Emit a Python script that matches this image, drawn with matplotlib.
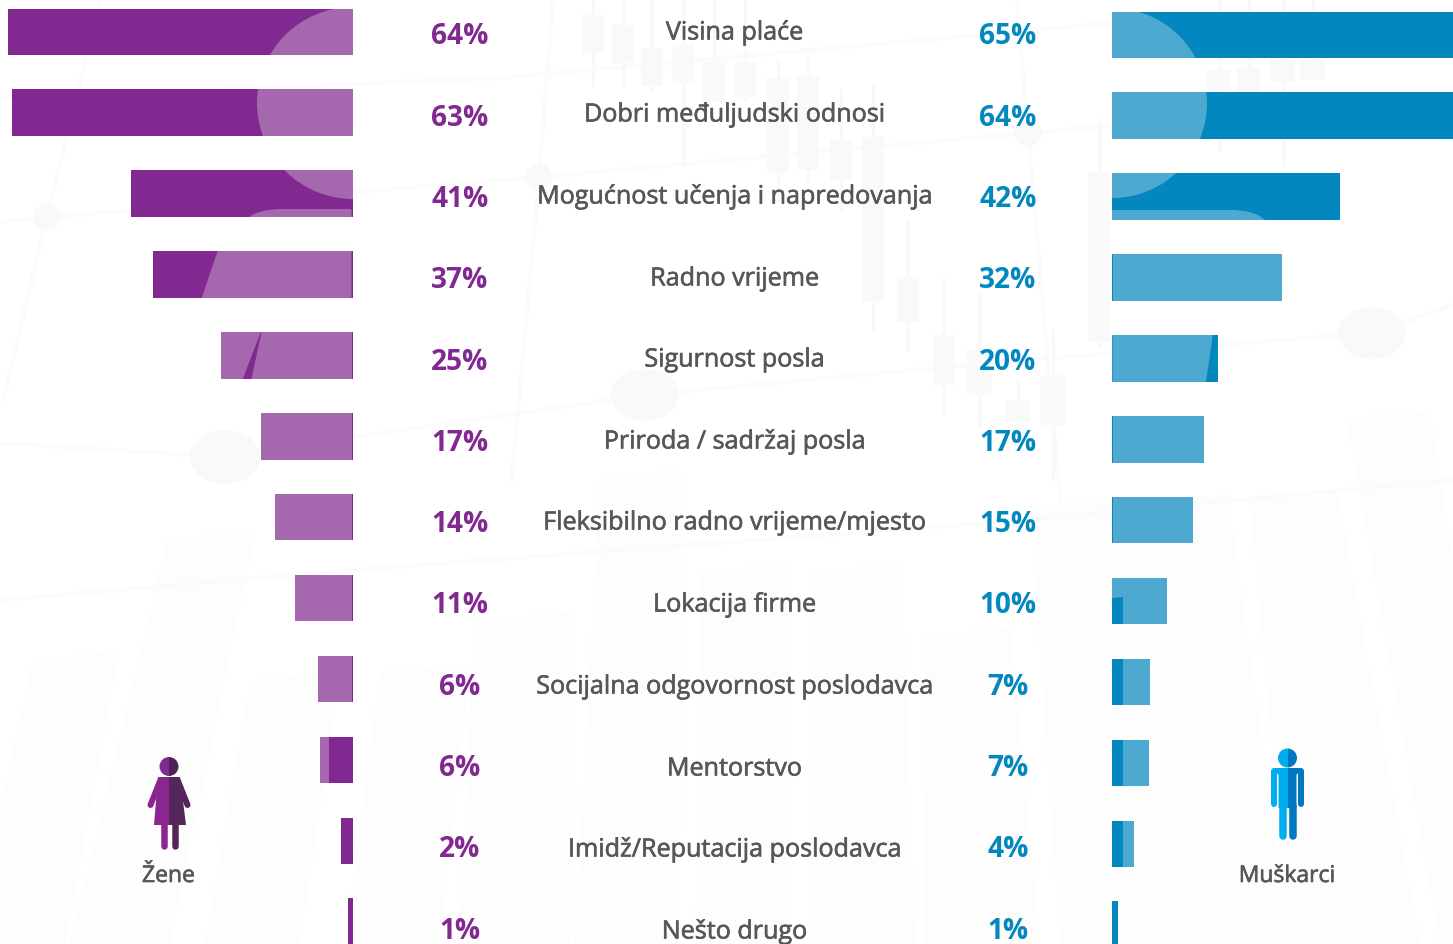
import matplotlib
matplotlib.use("Agg")
import matplotlib.pyplot as plt
import matplotlib.patheffects as pe
from matplotlib.patches import Circle, Ellipse, Polygon, PathPatch, Rectangle
from matplotlib.path import Path

# Data
categories = ["Visina plaće", "Dobri međuljudski odnosi", "Mogućnost učenja i napredovanja",
              "Radno vrijeme", "Sigurnost posla", "Priroda / sadržaj posla",
              "Fleksibilno radno vrijeme/mjesto", "Lokacija firme", "Socijalna odgovornost poslodavca",
              "Mentorstvo", "Imidž/Reputacija poslodavca", "Nešto drugo"]
women_labels = [64, 63, 41, 37, 25, 17, 14, 11, 6, 6, 2, 1]
men_labels = [65, 64, 42, 32, 20, 17, 15, 10, 7, 7, 4, 1]
# bar lengths as drawn, they do not follow the labels exactly
women_bars = [64.0, 63.3, 41.2, 37.1, 24.5, 17.1, 14.5, 10.8, 6.5, 6.1, 2.2, 0.9]
men_bars = [65.0, 64.0, 42.3, 31.5, 19.7, 17.1, 15.0, 10.2, 7.05, 6.9, 4.1, 1.1]

W, H = 1453, 944
PX_PER_PCT = 5.39
ROW_STEP = 80.9
BAR_H = 46.5 / ROW_STEP

PURPLE, PURPLE_L = "#812990", "#a568ae"
BLUE, BLUE_L = "#0287bf", "#4da9d0"
GREY = "#555759"
LINE = "#f9f9f9"
LINE_L = "#fbfbfb"
FAINT = "#fdfdfd"

plt.rcParams["font.family"] = ["Open Sans", "DejaVu Sans"]

fig = plt.figure(figsize=(W / 100, H / 100), dpi=100, facecolor="white")

# pixel canvas for the background, icons and text
bg = fig.add_axes([0, 0, 1, 1], zorder=0)
bg.set_xlim(0, W)
bg.set_ylim(H, 0)
bg.axis("off")


def px_axes(x0, x1, top_center, xlim):
    ax = fig.add_axes([x0 / W, 0, (x1 - x0) / W, 1], zorder=2)
    ax.set_xlim(*xlim)
    ax.set_ylim((H - top_center) / ROW_STEP, -top_center / ROW_STEP)
    ax.axis("off")
    return ax


ax_w = px_axes(0, 353, 31.8, (353 / PX_PER_PCT, 0))
ax_m = px_axes(1112, W, 34.8, (0, (W - 1112) / PX_PER_PCT))

# faint backdrop: the big slanted columns
columns = [
    [(33, 660), (120, 650), (65, 944), (-30, 944)],
    [(168, 537), (255, 533), (170, 944), (70, 944)],
    [(250, 680), (340, 672), (300, 944), (205, 944)],
    [(380, 672), (470, 665), (440, 944), (345, 944)],
    [(475, 620), (570, 612), (570, 944), (460, 944)],
    [(600, 475), (682, 470), (680, 944), (575, 944)],
    [(700, 570), (790, 565), (790, 944), (695, 944)],
    [(815, 570), (902, 565), (915, 944), (815, 944)],
    [(927, 635), (1010, 628), (1040, 944), (925, 944)],
    [(1030, 505), (1228, 495), (1290, 944), (1060, 944)],
    [(1250, 500), (1338, 495), (1420, 944), (1290, 944)],
    [(1346, 417), (1430, 412), (1453, 560), (1453, 944), (1440, 944)],
]
for pts in columns:
    bg.add_patch(Polygon(pts, closed=True, fc=FAINT, ec="none", zorder=1))

# trend lines and nodes
trends = [
    [(0, 98), (500, 78), (1000, 33), (1200, 15)],
    [(0, 222), (48, 217), (539, 177), (1028, 133), (1453, 95)],
    [(0, 443), (225, 457), (353, 437), (645, 395), (1000, 362), (1372, 333), (1453, 305)],
    [(0, 600), (353, 570), (1000, 522), (1453, 480)],
    [(100, 0), (47, 217), (3, 400)],
    [(553, 0), (539, 177), (512, 480)],
    [(1017, 0), (1028, 133), (1060, 500)],
]
for line in trends:
    bg.plot([p[0] for p in line], [p[1] for p in line], color=LINE_L, lw=3.0, zorder=1.5)
for x, y, rx, ry in [(47, 217, 14, 13), (539, 177, 13, 13), (1028, 133, 14, 13),
                     (225, 457, 35, 27), (645, 395, 34, 26), (1372, 333, 34, 26)]:
    bg.add_patch(Ellipse((x, y), 2 * rx, 2 * ry, fc=LINE, ec="none", zorder=1.5))

# candles
candles = [(582, 15, 22, 38, 0, 85), (612, 25, 22, 38, 0, 85), (641, 48, 22, 38, 0, 90),
           (672, 45, 22, 38, 0, 165), (703, 62, 22, 40, 0, 100), (734, 62, 22, 35, 0, 100),
           (767, 78, 22, 95, 60, 200), (797, 75, 22, 95, 55, 180), (830, 140, 22, 40, 90, 210),
           (862, 137, 22, 165, 85, 330), (897, 277, 22, 45, 222, 350), (933, 335, 22, 50, 280, 412),
           (967, 350, 25, 45, 292, 425), (1005, 400, 25, 22, 380, 440), (1040, 375, 25, 50, 330, 480),
           (1088, 172, 22, 170, 120, 345), (1207, 70, 23, 20, 0, 150), (1237, 67, 23, 25, 0, 90),
           (1270, 60, 25, 22, 0, 165), (1300, 60, 25, 20, 0, 75)]
for x, y, w, h, y0, y1 in candles:
    bg.plot([x + w / 2, x + w / 2], [y0, y1], color=LINE, lw=2.2, zorder=1.5)
    bg.add_patch(Rectangle((x, y), w, h, fc=LINE, ec="none", zorder=1.5))

# bars
w_rects = ax_w.barh(range(len(women_bars)), women_bars, height=BAR_H, color=PURPLE, linewidth=0)
m_rects = ax_m.barh(range(len(men_bars)), men_bars, height=BAR_H, color=BLUE, linewidth=0)


def lighten(ax, rect, patch):
    # pale shapes in canvas pixels, cut to the bar they sit on
    patch.set_transform(bg.transData)
    ax.add_artist(patch)
    patch.set_clip_path(rect)


def rounded_top(x_flat0, x_flat1, x_end, y_top, y_bot, left):
    if left:
        verts = [(x_flat1, y_top), (x_flat0, y_top), (x_flat0 - 15, y_top), (x_end + 5, y_top + 3),
                 (x_end, y_bot), (x_flat1, y_bot), (x_flat1, y_top)]
    else:
        verts = [(x_flat0, y_top), (x_flat1, y_top), (x_flat1 + 15, y_top), (x_end - 5, y_top + 3),
                 (x_end, y_bot), (x_flat0, y_bot), (x_flat0, y_top)]
    codes = [Path.MOVETO, Path.LINETO, Path.CURVE4, Path.CURVE4, Path.CURVE4, Path.LINETO, Path.CLOSEPOLY]
    return PathPatch(Path(verts, codes), fc="none", ec="none")


for i in range(3):
    lighten(ax_w, w_rects[i], Circle((353, 103), 96, fc=PURPLE_L, ec="none", zorder=3))
    lighten(ax_m, m_rects[i], Circle((1112, 103), 95, fc=BLUE_L, ec="none", zorder=3))

p = rounded_top(283, 351.5, 245, 209, 222, True)
p.set_facecolor(PURPLE_L)
p.set_zorder(3)
lighten(ax_w, w_rects[2], p)
p = rounded_top(1112, 1230, 1268, 210, 225, False)
p.set_facecolor(BLUE_L)
p.set_zorder(3)
lighten(ax_m, m_rects[2], p)

lighten(ax_w, w_rects[3], Polygon([(218, 250), (201, 300), (351.5, 300), (351.5, 250)], fc=PURPLE_L, ec="none", zorder=3))
lighten(ax_w, w_rects[4], Polygon([(200, 330), (261.5, 330), (242, 381), (200, 381)], fc=PURPLE_L, ec="none", zorder=3))
lighten(ax_w, w_rects[4], Polygon([(261.5, 330), (351.5, 330), (351.5, 381), (250.5, 381)], fc=PURPLE_L, ec="none", zorder=3))
for i in [5, 6, 7, 8]:
    lighten(ax_w, w_rects[i], Rectangle((200, 400 + (i - 5) * 81), 151.5, 80, fc=PURPLE_L, ec="none", zorder=3))
lighten(ax_w, w_rects[9], Rectangle((300, 730), 29, 60, fc=PURPLE_L, ec="none", zorder=3))

lighten(ax_m, m_rects[3], Rectangle((1112.5, 250), 200, 55, fc=BLUE_L, ec="none", zorder=3))
lighten(ax_m, m_rects[4], Polygon([(1112.5, 330), (1213.5, 330), (1205.5, 385), (1112.5, 385)], fc=BLUE_L, ec="none", zorder=3))
lighten(ax_m, m_rects[5], Rectangle((1112.5, 410), 120, 60, fc=BLUE_L, ec="none", zorder=3))
lighten(ax_m, m_rects[6], Rectangle((1112.5, 490), 120, 60, fc=BLUE_L, ec="none", zorder=3))
lighten(ax_m, m_rects[7], Polygon([(1112, 570), (1200, 570), (1200, 630), (1123, 630), (1123, 597), (1112, 598)], fc=BLUE_L, ec="none", zorder=3))
for i in [8, 9, 10]:
    lighten(ax_m, m_rects[i], Rectangle((1123, 650 + (i - 8) * 81), 60, 65, fc=BLUE_L, ec="none", zorder=3))

# texts, the stroke thickens Open Sans regular to the medium weight of the original
thick = [pe.withStroke(linewidth=0.45, foreground=GREY)]
label_y = [33, 115, 197, 279, 360, 442, 523, 605, 687, 769, 850, 932]
pct_y = [36.5, 118.5, 199.5, 280.5, 362.5, 443.5, 524.5, 605.5, 687.5, 768.5, 849.5, 931.5]
for i, name in enumerate(categories):
    bg.text(734.5, label_y[i], name, ha="center", va="center", fontsize=18.1, color=GREY, zorder=5, path_effects=thick)
    bg.text(460, pct_y[i], f"{women_labels[i]}%", ha="center", va="center", fontsize=20.2, color=PURPLE, fontweight="bold", zorder=5)
    bg.text(1008, pct_y[i], f"{men_labels[i]}%", ha="center", va="center", fontsize=20.2, color=BLUE, fontweight="bold", zorder=5)
bg.text(168.5, 876, "Žene", ha="center", va="center", fontsize=16.5, color=GREY, zorder=5, path_effects=thick)
bg.text(1287, 876, "Muškarci", ha="center", va="center", fontsize=16.5, color=GREY, zorder=5, path_effects=thick)


def half(artist, cx, side):
    box = Rectangle((cx - 60 if side == 0 else cx, 700), 60, 200, transform=bg.transData)
    artist.set_clip_path(box)


def limb(x0, y0, x1, y1, width, color, cx, side):
    ln, = bg.plot([x0, x1], [y0, y1], color=color, lw=width * 0.72, solid_capstyle="round", zorder=4)
    half(ln, cx, side)


# woman icon
cx = 169
for side, col, head in [(0, "#8b2590", "#7f2a90"), (1, "#55265a", "#4f2358")]:
    c = Circle((cx, 766.5), 9.5, fc=head, ec="none", zorder=4)
    bg.add_patch(c)
    half(c, cx, side)
    dress = Polygon([(158, 777), (180, 777), (186, 825), (154, 825)], fc=col, ec="none", zorder=4)
    bg.add_patch(dress)
    half(dress, cx, side)
    limb(160, 781, 150.5, 805, 6, col, cx, side)
    limb(178, 781, 187.5, 805, 6, col, cx, side)
    limb(164, 824, 164, 846, 6.5, col, cx, side)
    limb(175, 824, 175, 846, 6.5, col, cx, side)

# man icon
cx = 1287.5
for side, col in [(0, "#00aeef"), (1, "#0079c2")]:
    c = Circle((cx, 758), 9.5, fc=col, ec="none", zorder=4)
    bg.add_patch(c)
    half(c, cx, side)
    torso = Polygon([(1273, 768), (1302, 768), (1296.5, 775), (1296.5, 808), (1278.5, 808), (1278.5, 775)],
                    fc=col, ec="none", zorder=4)
    bg.add_patch(torso)
    half(torso, cx, side)
    limb(1274, 771, 1274, 804, 6, col, cx, side)
    limb(1301, 771, 1301, 804, 6, col, cx, side)
    limb(1282.5, 806, 1282.5, 835.5, 7.5, col, cx, side)
    limb(1292.5, 806, 1292.5, 835.5, 7.5, col, cx, side)

fig.savefig("out.png", dpi=100)
